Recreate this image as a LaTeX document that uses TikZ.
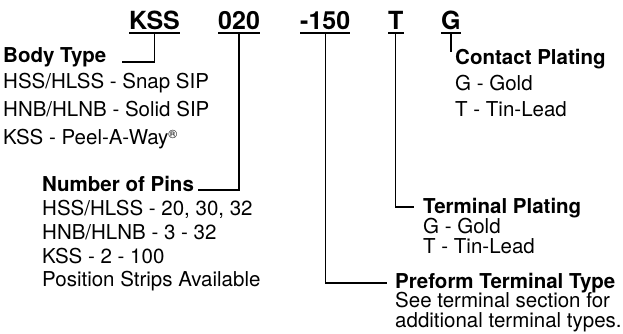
\documentclass[tikz,border=0pt]{standalone}
\usepackage{fontspec}
\setmainfont{TeX Gyre Heros}
\begin{document}
\begin{tikzpicture}[x={(1pt,0)},y={(0,-1pt)},
  title/.style={anchor=base west,inner sep=0pt,font=\fontsize{25}{28}\selectfont\bfseries},
  head/.style={anchor=base west,inner sep=0pt,font=\fontsize{20.5}{24}\selectfont\bfseries},
  item/.style={anchor=base west,inner sep=0pt,font=\fontsize{20.5}{24}\selectfont},
  ul/.style={line width=2pt},
  conn/.style={line width=1.2pt}]
\useasboundingbox (0,0) rectangle (623,333);
% part-number fields
\node[title] (kss) at (129,29) {KSS};
\node[title] (n020) at (218,29) {020};
\node[title] (n150) at (300,29) {-150};
\node[title] (nT) at (388,29) {T};
\node[title] (nG) at (441,29) {G};
\foreach \n in {kss,n020,n150,nT,nG}
  \draw[ul] ([yshift=-3.5pt]\n.base west) -- ([yshift=-3.5pt]\n.base east);
% Body type
\node[head] (body) at (3,62) {Body Type};
\node[item] (b1) at (3,88) {HSS/HLSS - Snap SIP};
\node[item] (b2) at (3,116) {HNB/HLNB - Solid SIP};
\node[item] (b3) at (3,144) {KSS - Peel-A-Way\raisebox{6pt}{\fontsize{12}{12}\selectfont ®}};
% Number of pins
\node[head] (pins) at (42,191) {Number of Pins};
\node[item] (p1) at (42,215) {HSS/HLSS - 20, 30, 32};
\node[item] (p2) at (42,239) {HNB/HLNB - 3 - 32};
\node[item] (p3) at (42,263) {KSS - 2 - 100};
\node[item] (p4) at (42,286) {Position Strips Available};
% Contact plating
\node[head] (cplat) at (455,64) {Contact Plating};
\node[item] (c1) at (455,90) {G - Gold};
\node[item] (c2) at (455,116) {T - Tin-Lead};
% Terminal plating
\node[head] (tplat) at (423,213) {Terminal Plating};
\node[item] (t1) at (423,233) {G - Gold};
\node[item] (t2) at (423,253) {T - Tin-Lead};
% Preform terminal type
\node[head] (pre) at (395,288) {Preform Terminal Type};
\node[item] (r1) at (395,307.5) {See terminal section for};
\node[item] (r2) at (395,327) {additional terminal types.};
% connectors
\draw[conn] ([yshift=-3.5pt]kss.base) |- ([xshift=15pt]body.base east);
\draw[conn] ([yshift=-3.5pt]n020.base) |- ([xshift=4pt,yshift=1pt]pins.base east);
\draw[conn] ([yshift=-3.5pt]n150.base) |- ([xshift=-8pt,yshift=5pt]pre.base west);
\draw[conn] ([yshift=-3.5pt]nT.base) |- ([xshift=-9pt,yshift=6pt]tplat.base west);
\draw[conn] ([yshift=-3.5pt]nG.base) -- ([yshift=-3.5pt]nG.base |- cplat.north);
\end{tikzpicture}
\end{document}
